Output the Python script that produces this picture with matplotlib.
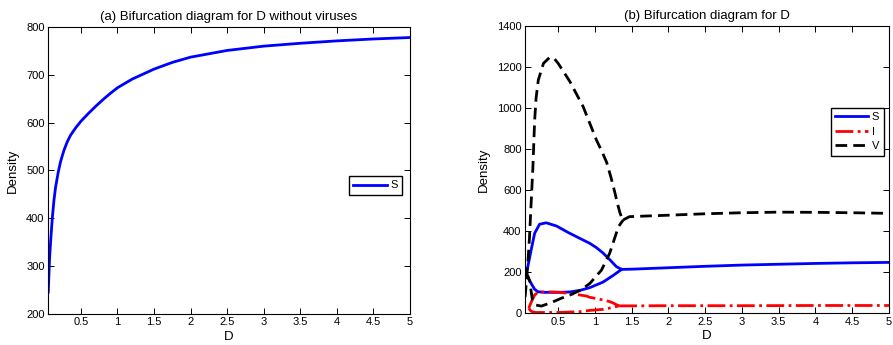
import matplotlib
matplotlib.use("Agg")
import matplotlib.pyplot as plt

plt.rcParams["font.family"] = ["Liberation Sans", "DejaVu Sans"]

# (a) S without viruses
d_a = [0.053, 0.071, 0.085, 0.108, 0.131, 0.153, 0.19, 0.222, 0.267, 0.313, 0.359, 0.427,
       0.5, 0.6, 0.7, 0.8, 0.9, 1.0, 1.2, 1.5, 1.75, 2.0, 2.5, 3.0, 3.5, 4.0, 4.5, 5.0]
s_a = [246, 316, 351, 400, 438, 465, 497, 519, 542, 560, 574, 589,
       603, 619, 634, 648, 661, 673, 691, 712, 726, 737, 751, 760, 766, 771, 775, 778]

# (b) with viruses: max / min branches of the oscillation, then the equilibrium
d_s_up = [0.05, 0.087, 0.132, 0.18, 0.247, 0.337, 0.48, 0.63, 0.795, 0.93, 1.02, 1.11, 1.2, 1.29, 1.36]
s_up = [187, 227, 308, 390, 434, 441, 425, 395, 365, 341, 320, 294, 262, 228, 214]
d_s_lo = [0.05, 0.087, 0.132, 0.18, 0.224, 0.32, 0.5, 0.66, 0.8, 0.93, 1.11, 1.25, 1.34, 1.36]
s_lo = [187, 175, 146, 117, 105, 102, 102, 104, 112, 125, 152, 185, 208, 214]
d_s_eq = [1.36, 1.5, 2.0, 2.5, 3.0, 3.5, 4.0, 4.5, 5.0]
s_eq = [214, 215, 222, 229, 235, 239, 243, 246, 248]

d_i_up = [0.1, 0.14, 0.18, 0.224, 0.34, 0.5, 0.66, 0.885, 0.93, 1.11, 1.2, 1.25, 1.29, 1.33]
i_up = [25, 60, 89, 102, 105, 103, 97, 84, 78, 65, 57, 50, 42, 37]
d_i_lo = [0.1, 0.12, 0.15, 0.2, 0.5, 0.8, 0.93, 1.11, 1.25, 1.33]
i_lo = [25, 14, 7, 4, 4, 8, 14, 19, 29, 37]
d_i_eq = [1.33, 2.0, 3.0, 4.0, 5.0]
i_eq = [36, 37, 37, 38, 38]

d_v_up = [0.05, 0.065, 0.087, 0.11, 0.13, 0.156, 0.18, 0.2, 0.23, 0.3, 0.387, 0.45, 0.5,
          0.66, 0.84, 1.02, 1.1, 1.16, 1.22, 1.27, 1.31, 1.34, 1.37, 1.385]
v_up = [80, 140, 240, 370, 520, 710, 940, 1050, 1137, 1218, 1248, 1240, 1218,
        1129, 1007, 845, 785, 735, 660, 590, 530, 490, 462, 455]
d_v_lo = [0.05, 0.09, 0.12, 0.13, 0.15, 0.2, 0.27, 0.405, 0.54, 0.66, 0.8, 0.93, 1.09, 1.2, 1.32, 1.385]
v_lo = [200, 180, 150, 113, 65, 40, 35, 52, 73, 89, 112, 145, 211, 292, 422, 455]
d_v_eq = [1.385, 1.47, 2.0, 2.5, 3.0, 3.5, 4.0, 4.5, 5.0]
v_eq = [455, 471, 478, 485, 490, 493, 492, 490, 487]

xt = [0.5, 1, 1.5, 2, 2.5, 3, 3.5, 4, 4.5, 5]
xt_labels = ["0.5", "1", "1.5", "2", "2.5", "3", "3.5", "4", "4.5", "5"]

fig = plt.figure(figsize=(8.93, 3.45), dpi=100)
ax1 = fig.add_axes([0.0538, 0.0899, 0.4052, 0.8318])
ax2 = fig.add_axes([0.588, 0.0919, 0.4075, 0.8327])

lw = 2
dash = (4.2, 2.2)

ax1.plot(d_a, s_a, color="blue", lw=lw, label="S")
ax1.set_xlim(0.05, 5)
ax1.set_ylim(200, 800)
ax1.set_yticks(range(200, 801, 100))
ax1.set_title("(a) Bifurcation diagram for D without viruses", fontsize=9.5, pad=5)
ax1.legend(loc="upper right", bbox_to_anchor=(0.978, 0.481), borderaxespad=0,
           fancybox=False, edgecolor="black", framealpha=1, fontsize=8,
           handlelength=3, handletextpad=0.3)

ax2.plot(d_s_up, s_up, color="blue", lw=lw, label="S")
ax2.plot(d_s_lo, s_lo, color="blue", lw=lw)
ax2.plot(d_s_eq, s_eq, color="blue", lw=lw)
ax2.plot(d_i_up, i_up, color="red", lw=lw, ls="-.", label="I")
ax2.plot(d_i_lo, i_lo, color="red", lw=lw, ls="-.")
ax2.plot(d_i_eq, i_eq, color="red", lw=lw, ls="-.")
ax2.plot(d_v_up, v_up, color="black", lw=lw, ls=(0, dash), label="V")
ax2.plot(d_v_lo, v_lo, color="black", lw=lw, ls=(0, dash))
ax2.plot(d_v_eq, v_eq, color="black", lw=lw, ls=(0, dash))
ax2.set_xlim(0.05, 5)
ax2.set_ylim(0, 1400)
ax2.set_yticks(range(0, 1401, 200))
ax2.set_title("(b) Bifurcation diagram for D", fontsize=9.5, pad=5)
ax2.legend(loc="upper right", bbox_to_anchor=(0.985, 0.715), borderaxespad=0,
           fancybox=False, edgecolor="black", framealpha=1, fontsize=8,
           handlelength=3, handletextpad=0.3, labelspacing=0.4)

for ax in (ax1, ax2):
    ax.set_xticks(xt)
    ax.set_xticklabels(xt_labels)
    ax.set_xlabel("D", fontsize=9.5, labelpad=2.5)
    ax.set_ylabel("Density", fontsize=9.5, labelpad=5)
    ax.tick_params(direction="in", top=True, right=True, labelsize=8, length=4, width=0.7, pad=2.5)
    for sp in ax.spines.values():
        sp.set_linewidth(0.8)

fig.savefig("out.png", dpi=100)
